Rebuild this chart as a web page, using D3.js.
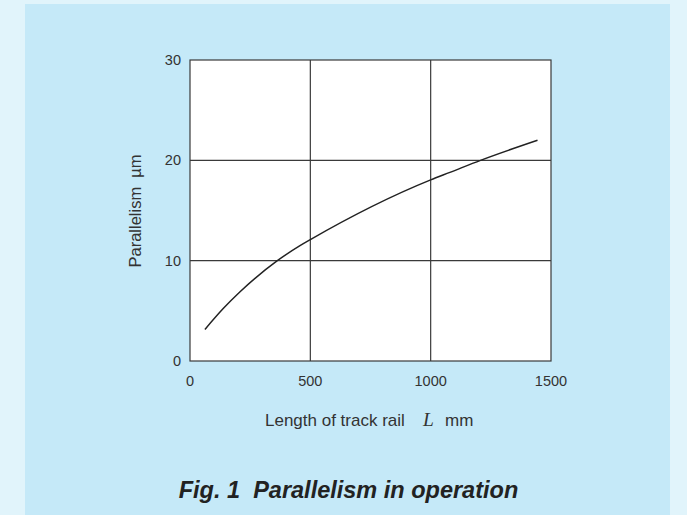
<!DOCTYPE html>
<html>
<head>
<meta charset="utf-8">
<script src="https://cdn.jsdelivr.net/npm/d3@7"></script>
<style>
  html, body { margin: 0; padding: 0; background: #e1f4fb; }
  svg { display: block; font-family: "Liberation Sans", Arial, sans-serif; }
</style>
</head>
<body>
<script>
const width = 687;
const height = 515;

// data
const lengthMm = [62, 139, 208, 363, 457, 500, 1000, 1080, 1207, 1444];
const parallelism = [3.15, 5.25, 6.9, 10.0, 11.5, 12.1, 18.05, 18.8, 20.0, 22.0];
const xTicks = [0, 500, 1000, 1500];
const yTicks = [0, 10, 20, 30];

const svg = d3.select("body")
    .append("svg")
    .attr("width", width)
    .attr("height", height);

// blue panel
svg.append("rect")
    .attr("x", 25).attr("y", 4)
    .attr("width", 645).attr("height", 515)
    .attr("fill", "#c5e9f8");

const x = d3.scaleLinear().domain([0, 1500]).range([190, 551]);
const y = d3.scaleLinear().domain([0, 30]).range([361, 60]);

// plot area
svg.append("rect")
    .attr("x", x(0)).attr("y", y(30))
    .attr("width", x(1500) - x(0)).attr("height", y(0) - y(30))
    .attr("fill", "#fff")
    .attr("stroke", "#3a3a3a")
    .attr("stroke-width", 1.2);

// grid
svg.append("g")
    .selectAll("line")
    .data(xTicks.slice(1, -1))
    .join("line")
    .attr("x1", d => x(d)).attr("x2", d => x(d))
    .attr("y1", y(0)).attr("y2", y(30))
    .attr("stroke", "#3a3a3a").attr("stroke-width", 1.2);

svg.append("g")
    .selectAll("line")
    .data(yTicks.slice(1, -1))
    .join("line")
    .attr("x1", x(0)).attr("x2", x(1500))
    .attr("y1", d => y(d)).attr("y2", d => y(d))
    .attr("stroke", "#3a3a3a").attr("stroke-width", 1.2);

// tick labels
svg.append("g")
    .selectAll("text")
    .data(xTicks)
    .join("text")
    .attr("x", d => x(d))
    .attr("y", 385.5)
    .attr("text-anchor", "middle")
    .attr("font-size", 14.5)
    .attr("fill", "#333")
    .text(d => d);

svg.append("g")
    .selectAll("text")
    .data(yTicks)
    .join("text")
    .attr("x", 181)
    .attr("y", d => y(d) + 5)
    .attr("text-anchor", "end")
    .attr("font-size", 14.5)
    .attr("fill", "#333")
    .text(d => d);

// curve
const pts = lengthMm.map((d, i) => [d, parallelism[i]]);
const line = d3.line()
    .x(d => x(d[0]))
    .y(d => y(d[1]))
    .curve(d3.curveMonotoneX);

svg.append("path")
    .datum(pts)
    .attr("d", line)
    .attr("fill", "none")
    .attr("stroke", "#222")
    .attr("stroke-width", 1.5);

// axis titles
svg.append("text")
    .attr("transform", "translate(141,211) rotate(-90)")
    .attr("text-anchor", "middle")
    .attr("font-size", 16.5)
    .attr("fill", "#333")
    .attr("xml:space", "preserve")
    .text("Parallelism  \u00b5m");

const xt = svg.append("text")
    .attr("y", 426)
    .attr("font-size", 17)
    .attr("fill", "#333");
xt.append("tspan").attr("x", 265).text("Length of track rail");
xt.append("tspan")
    .attr("x", 423)
    .attr("font-family", "'Liberation Serif', 'DejaVu Serif', serif")
    .attr("font-style", "italic")
    .attr("font-size", 19.5)
    .text("L");
xt.append("tspan").attr("x", 445).text("mm");

// caption
svg.append("text")
    .attr("x", 348.5)
    .attr("y", 498)
    .attr("text-anchor", "middle")
    .attr("font-size", 23.5)
    .attr("font-weight", "bold")
    .attr("font-style", "italic")
    .attr("fill", "#222")
    .attr("xml:space", "preserve")
    .text("Fig. 1  Parallelism in operation");
</script>
</body>
</html>
